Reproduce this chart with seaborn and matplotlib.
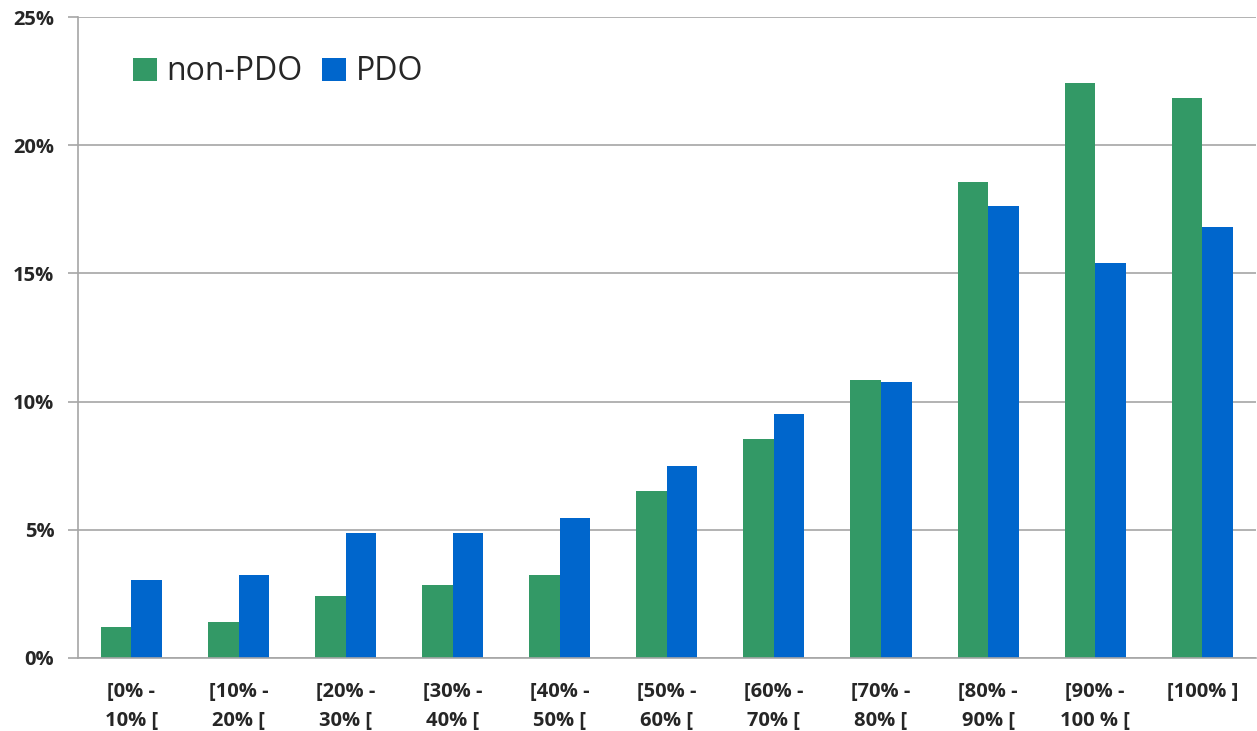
import matplotlib
matplotlib.use("Agg")
import matplotlib.pyplot as plt
import seaborn as sns
import pandas as pd
from matplotlib.ticker import FuncFormatter, MultipleLocator

categories = ["[0% -\n10% [", "[10% -\n20% [", "[20% -\n30% [", "[30% -\n40% [",
              "[40% -\n50% [", "[50% -\n60% [", "[60% -\n70% [", "[70% -\n80% [",
              "[80% -\n90% [", "[90% -\n100 % [", "[100% ]"]
non_pdo = [1.21, 1.40, 2.42, 2.85, 3.24, 6.51, 8.54, 10.84, 18.56, 22.43, 21.84]
pdo = [3.04, 3.24, 4.88, 4.88, 5.46, 7.49, 9.52, 10.76, 17.63, 15.41, 16.81]
series_names = ["non-PDO", "PDO"]
colors = ["#339966", "#0066CC"]

df = pd.DataFrame({
    "cat": categories * 2,
    "val": non_pdo + pdo,
    "series": [series_names[0]] * len(categories) + [series_names[1]] * len(categories),
})

sns.set_style("white")
plt.rcParams['font.family'] = ['Open Sans', 'DejaVu Sans']

fig = plt.figure(figsize=(12.57, 7.31), dpi=100)
ax = fig.add_axes([0.062, 0.0999, 0.937, 0.8768])

sns.barplot(data=df, x="cat", y="val", hue="series", palette=colors,
            width=0.57, gap=0, linewidth=0, saturation=1, ax=ax, legend=True,
            order=categories, hue_order=series_names)

ax.set_ylim(0, 25)
ax.set_xlim(-0.5, len(categories) - 0.5)
ax.yaxis.set_major_locator(MultipleLocator(5))
ax.yaxis.set_major_formatter(FuncFormatter(lambda v, p: f"{v:.0f}%"))
ax.yaxis.grid(True, color="#A6A6A6", linewidth=1.2)
ax.set_axisbelow(True)
ax.set_xlabel("")
ax.set_ylabel("")

for s in ["top", "right"]:
    ax.spines[s].set_visible(False)
for s in ["left", "bottom"]:
    ax.spines[s].set_color("#A6A6A6")
    ax.spines[s].set_linewidth(1.2)

ax.set_xticks([i for i in range(len(categories))])
ax.set_xticklabels(categories)
ax.set_xticks([i - 0.5 for i in range(len(categories) + 1)], minor=True)
ax.tick_params(axis="x", which="major", length=0, pad=17, labelsize=14.5)
ax.tick_params(axis="x", which="minor", length=7, width=1.2, color="#A6A6A6", direction="out")
ax.tick_params(axis="y", which="major", length=7, width=1.2, color="#A6A6A6",
               direction="out", pad=10, labelsize=14.5, left=True)
for lab in ax.get_xticklabels() + ax.get_yticklabels():
    lab.set_fontweight("bold")
for lab in ax.get_xticklabels():
    lab.set_linespacing(1.6)

leg = ax.legend(loc="upper left", bbox_to_anchor=(0.036, 0.96), ncol=2, frameon=False,
                fontsize=23, handlelength=0.75, handleheight=0.75, handletextpad=0.3,
                columnspacing=0.6, borderaxespad=0)

fig.savefig("out.png", dpi=100)
